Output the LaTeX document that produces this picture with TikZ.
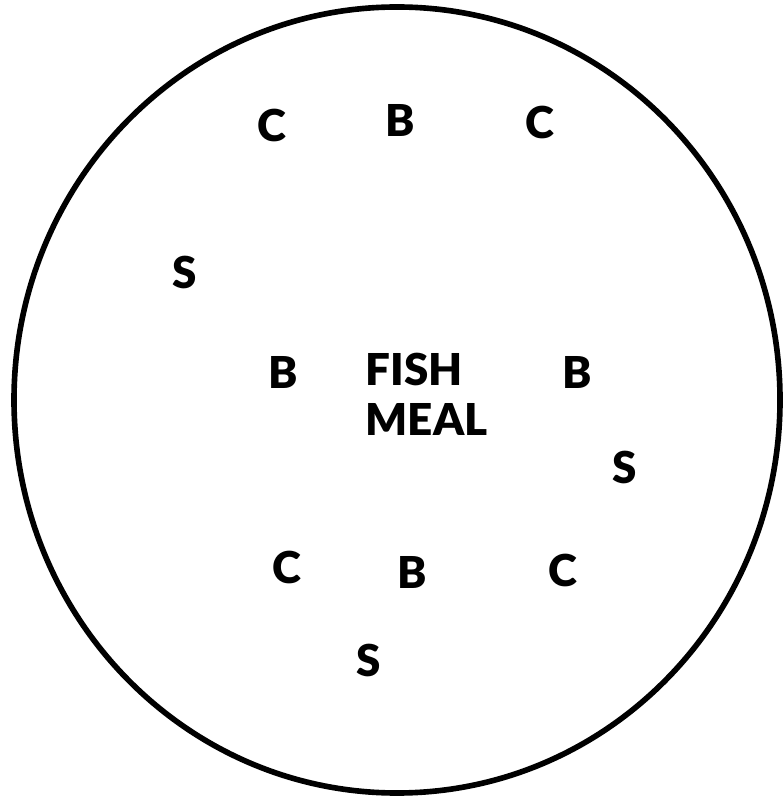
\documentclass[tikz,border=0pt]{standalone}
\usepackage{fontspec}
\setmainfont{Lato}[BoldFont=Lato Black]
\tikzset{lettr/.style={font=\fontsize{12.5}{14}\selectfont\bfseries,inner sep=0pt}}
\begin{document}
\begin{tikzpicture}[x=0.01cm,y=-0.01cm]
		\useasboundingbox (0,0) rectangle (782,798);
		\draw[line width=1.6pt] (397,400) ellipse (383 and 393);
		\node[lettr] (c1) at (272,125) {C};\node[lettr] (b1) at (400,120) {B};\node[lettr] (c2) at (540,122) {C};
		\node[lettr] (s1) at (185,272) {S};
		\node[lettr] (b2) at (283,372) {B};\node[lettr] (b3) at (577,372) {B};
		\node[lettr,align=left,anchor=north west,font=\fontsize{12.5}{14.2}\selectfont\bfseries] (fm) at (365,352) {FISH\\MEAL};
		\node[lettr] (s2) at (625,467) {S};
		\node[lettr] (c3) at (287,567) {C};\node[lettr] (b4) at (412,572) {B};\node[lettr] (c4) at (563,570) {C};
		\node[lettr] (s3) at (369,660) {S};
	\end{tikzpicture}
\end{document}
